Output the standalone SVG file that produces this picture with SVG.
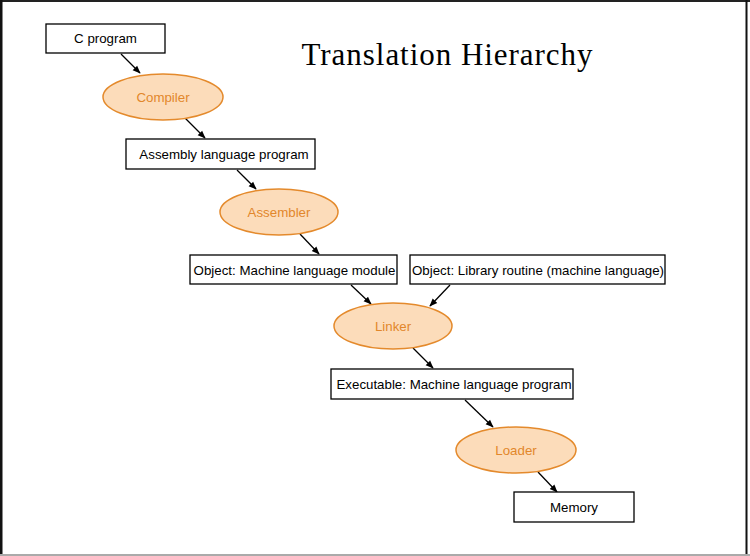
<svg xmlns="http://www.w3.org/2000/svg" width="750" height="556" viewBox="0 0 750 556">
<style>
.box{fill:#fff;stroke:#000;stroke-width:1.3}
.ell{fill:#fcdcba;stroke:#e48a2c;stroke-width:1.5}
.bt{font-family:"Liberation Sans",Arial,sans-serif;font-size:13.3px;fill:#000;text-anchor:middle}
.et{font-family:"Liberation Sans",Arial,sans-serif;font-size:13.3px;fill:#e2872b;text-anchor:middle}
.edge{stroke:#000;stroke-width:1.3;fill:none;marker-end:url(#ah)}
</style>
<defs>
<marker id="ah" viewBox="0 0 10 10" refX="9" refY="5" markerWidth="8" markerHeight="8" orient="auto" markerUnits="userSpaceOnUse">
<path d="M0,1 L10,5 L0,9 Z" fill="#000"/>
</marker>
</defs>
<rect x="0" y="0" width="750" height="556" fill="#fff"/>
<line x1="0" y1="1" x2="750" y2="1" stroke="#222" stroke-width="2"/>
<line x1="1" y1="0" x2="1" y2="556" stroke="#111" stroke-width="3"/>
<line x1="746.5" y1="0" x2="746.5" y2="556" stroke="#111" stroke-width="2"/>
<line x1="0" y1="555" x2="750" y2="555" stroke="#aaa" stroke-width="2"/>
<text x="447" y="65" font-family="'Liberation Serif','Times New Roman',serif" font-size="31" text-anchor="middle" textLength="291" fill="#000">Translation Hierarchy</text>
<g id="connectors">
<line class="edge" x1="121" y1="54" x2="140" y2="73"/>
<line class="edge" x1="185" y1="118" x2="205" y2="138"/>
<line class="edge" x1="237" y1="170" x2="256" y2="189"/>
<line class="edge" x1="300" y1="234" x2="319" y2="254"/>
<line class="edge" x1="351" y1="285" x2="371" y2="304"/>
<line class="edge" x1="450" y1="285" x2="430" y2="306"/>
<line class="edge" x1="413" y1="348" x2="433" y2="368"/>
<line class="edge" x1="465" y1="400" x2="493" y2="427"/>
<line class="edge" x1="538" y1="472" x2="557" y2="492"/>
</g>
<g id="cprogram"><rect class="box" x="46" y="24" width="119" height="29"/><text class="bt" x="105.5" y="43">C program</text></g>
<g id="compiler"><ellipse class="ell" cx="163" cy="97" rx="60" ry="23"/><text class="et" x="163" y="101.5">Compiler</text></g>
<g id="assembly"><rect class="box" x="126" y="139" width="189" height="30"/><text class="bt" x="224" y="159">Assembly language program</text></g>
<g id="assembler"><ellipse class="ell" cx="279" cy="212" rx="59" ry="23"/><text class="et" x="279" y="216.5">Assembler</text></g>
<g id="object1"><rect class="box" x="190" y="255" width="207" height="29"/><text class="bt" x="294.5" y="274.5">Object: Machine language module</text></g>
<g id="object2"><rect class="box" x="410" y="255" width="255" height="29"/><text class="bt" x="538" y="274.5">Object: Library routine (machine language)</text></g>
<g id="linker"><ellipse class="ell" cx="393" cy="326" rx="59" ry="23"/><text class="et" x="393" y="330.5">Linker</text></g>
<g id="executable"><rect class="box" x="331" y="369" width="242" height="30"/><text class="bt" x="454" y="389">Executable: Machine language program</text></g>
<g id="loader"><ellipse class="ell" cx="516" cy="450" rx="60" ry="23"/><text class="et" x="516" y="454.5">Loader</text></g>
<g id="memory"><rect class="box" x="514" y="492" width="120" height="30"/><text class="bt" x="574" y="512">Memory</text></g>
</svg>
